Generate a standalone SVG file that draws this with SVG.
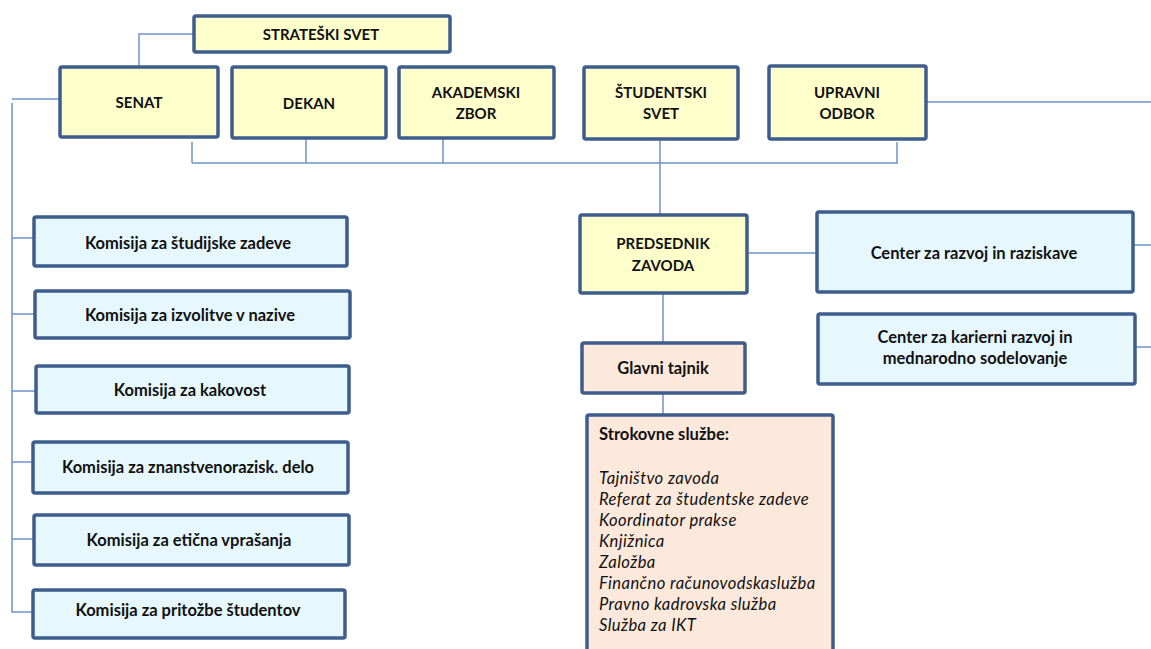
<svg xmlns="http://www.w3.org/2000/svg" width="1151" height="649" viewBox="0 0 1151 649">
<style>
.box{stroke:#3d5d8c;stroke-width:3.5}
.y{fill:#ffffcc}
.b{fill:#e6f8fd}
.p{fill:#fde9db}
.t{font-family:Lato,"Liberation Sans",sans-serif;font-weight:bold;font-size:15px;fill:#111;text-anchor:middle;dominant-baseline:central}
.m{font-size:16.5px}
.s{font-family:Lato,"Liberation Sans",sans-serif;font-size:16.6px;fill:#111}
.i{font-style:italic;letter-spacing:0.4px}
.c{fill:none;stroke:#6f93c9;stroke-width:1.5}
</style>
<rect width="1151" height="649" fill="#fff"/>
<g id="connectors">
<polyline class="c" points="194,34 139,34 139,67"/>
<polyline class="c" points="60,99 12,99"/>
<polyline class="c" points="12,103 12,612 34,612"/>
<line class="c" x1="12" y1="238" x2="34" y2="238"/>
<line class="c" x1="12" y1="314" x2="35" y2="314"/>
<line class="c" x1="12" y1="391" x2="36" y2="391"/>
<line class="c" x1="12" y1="462" x2="33" y2="462"/>
<line class="c" x1="12" y1="539" x2="34" y2="539"/>
<line class="c" x1="192" y1="163" x2="898" y2="163"/>
<line class="c" x1="192" y1="142" x2="192" y2="163"/>
<line class="c" x1="306" y1="138" x2="306" y2="163"/>
<line class="c" x1="443" y1="138" x2="443" y2="163"/>
<line class="c" x1="660" y1="139" x2="660" y2="215"/>
<line class="c" x1="897" y1="142" x2="897" y2="163"/>
<line class="c" x1="926" y1="102" x2="1151" y2="102"/>
<line class="c" x1="747" y1="253" x2="817" y2="253"/>
<line class="c" x1="1133" y1="245" x2="1151" y2="245"/>
<line class="c" x1="1135" y1="347" x2="1151" y2="347"/>
<line class="c" x1="663" y1="293" x2="663" y2="343"/>
<line class="c" x1="663" y1="393" x2="663" y2="415"/>
</g>
<g id="strateski-svet"><rect class="box y" x="194" y="16" width="256" height="36" rx="2"/><text class="t" x="321" y="34">STRATEŠKI SVET</text></g>
<g id="senat"><rect class="box y" x="60" y="67" width="158" height="70" rx="2"/><text class="t" x="139" y="102">SENAT</text></g>
<g id="dekan"><rect class="box y" x="232" y="67" width="154" height="71" rx="2"/><text class="t" x="309" y="103">DEKAN</text></g>
<g id="akademski-zbor"><rect class="box y" x="399" y="67" width="155" height="71" rx="2"/><text class="t" x="476" y="92">AKADEMSKI</text><text class="t" x="476" y="113">ZBOR</text></g>
<g id="studentski-svet"><rect class="box y" x="584" y="67" width="154" height="72" rx="2"/><text class="t" x="661" y="92">ŠTUDENTSKI</text><text class="t" x="661" y="113">SVET</text></g>
<g id="upravni-odbor"><rect class="box y" x="769" y="66" width="157" height="73" rx="2"/><text class="t" x="847" y="92">UPRAVNI</text><text class="t" x="847" y="113">ODBOR</text></g>
<g id="predsednik-zavoda"><rect class="box y" x="580" y="215" width="167" height="78" rx="2"/><text class="t" x="663" y="243">PREDSEDNIK</text><text class="t" x="663" y="265">ZAVODA</text></g>
<g id="center-razvoj"><rect class="box b" x="817" y="212" width="316" height="80" rx="2"/><text class="t m" x="974" y="253">Center za razvoj in raziskave</text></g>
<g id="center-karierni"><rect class="box b" x="818" y="314" width="317" height="70" rx="2"/><text class="t m" x="975" y="337">Center za karierni razvoj in</text><text class="t m" x="975" y="358">mednarodno sodelovanje</text></g>
<g id="glavni-tajnik"><rect class="box p" x="582" y="343" width="163" height="50" rx="2"/><text class="t m" x="663" y="368">Glavni tajnik</text></g>
<g id="strokovne-sluzbe"><rect class="box p" x="587" y="415" width="246" height="250" rx="2"/>
<text class="s" x="599" y="440" font-weight="bold">Strokovne službe:</text>
<text class="s i" x="599" y="484">Tajništvo zavoda</text>
<text class="s i" x="599" y="505">Referat za študentske zadeve</text>
<text class="s i" x="599" y="526">Koordinator prakse</text>
<text class="s i" x="599" y="547">Knjižnica</text>
<text class="s i" x="599" y="568">Založba</text>
<text class="s i" x="599" y="589">Finančno računovodskaslužba</text>
<text class="s i" x="599" y="610">Pravno kadrovska služba</text>
<text class="s i" x="599" y="631">Služba za IKT</text>
</g>
<g id="komisija-studijske"><rect class="box b" x="34" y="217" width="313" height="49" rx="2"/><text class="t m" x="188" y="243">Komisija za študijske zadeve</text></g>
<g id="komisija-izvolitve"><rect class="box b" x="35" y="291" width="315" height="47" rx="2"/><text class="t m" x="190" y="315">Komisija za izvolitve v nazive</text></g>
<g id="komisija-kakovost"><rect class="box b" x="36" y="366" width="313" height="47" rx="2"/><text class="t m" x="190" y="390">Komisija za kakovost</text></g>
<g id="komisija-znanstveno"><rect class="box b" x="33" y="442" width="315" height="51" rx="2"/><text class="t m" x="188" y="467">Komisija za znanstvenorazisk. delo</text></g>
<g id="komisija-eticna"><rect class="box b" x="34" y="515" width="315" height="50" rx="2"/><text class="t m" x="189" y="540">Komisija za etična vprašanja</text></g>
<g id="komisija-pritozbe"><rect class="box b" x="33" y="590" width="312" height="48" rx="2"/><text class="t m" x="188" y="610">Komisija za pritožbe študentov</text></g>
</svg>
